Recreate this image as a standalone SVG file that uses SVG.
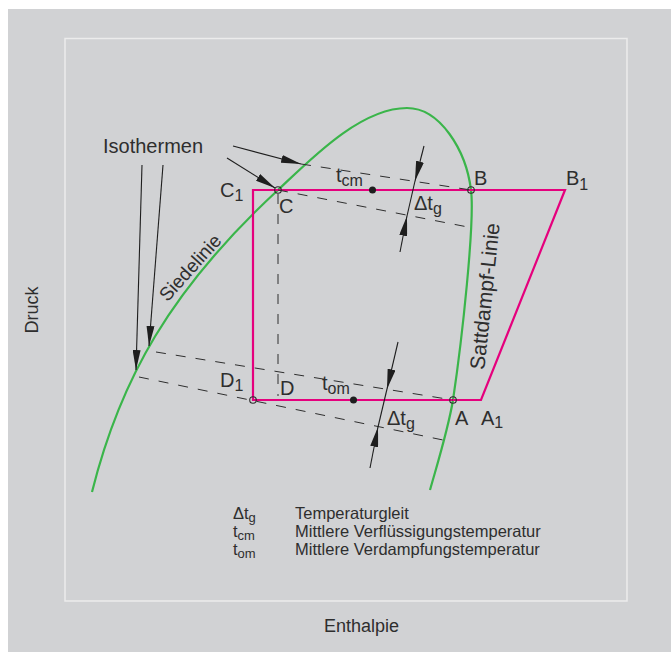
<svg xmlns="http://www.w3.org/2000/svg" width="671" height="653" viewBox="0 0 671 653">
<defs>
<style>
text{font-family:"Liberation Sans",Arial,sans-serif;fill:#2e2e2e}
.lbl{font-size:20px}
.sub{font-size:16px}
.leg{font-size:16.5px}
.dash{fill:none;stroke:#2e2e2e;stroke-width:1;stroke-dasharray:10 10}
.arr{fill:none;stroke:#1e1e1e;stroke-width:1.1;marker-end:url(#ah)}
.thin{fill:none;stroke:#1e1e1e;stroke-width:1.1}
.pink{fill:none;stroke:#e5007d;stroke-width:2.2;stroke-linejoin:miter}
.green{fill:none;stroke:#3ab54a;stroke-width:2.2}
.open{fill:none;stroke:#2e2e2e;stroke-width:1.1}
.dot{fill:#1e1e1e}
</style>
<marker id="ah" viewBox="0 0 20 8" refX="20" refY="4" markerWidth="20" markerHeight="8" markerUnits="userSpaceOnUse" orient="auto">
<path d="M0,0 L20,4 L0,8 Z" fill="#1e1e1e"/>
</marker>
</defs>
<rect id="background" x="8" y="9" width="663" height="643" fill="#d1d2d4"/>
<rect id="frame" x="65" y="38.5" width="562" height="562.5" fill="none" stroke="#ececec" stroke-width="1.5"/>
<g id="saturation-curve">
<path class="green" d="M92,492 C120,380 170,290 278,190 C310,160 360,108 407,108 C440,108 466,150 471,190 C475,222 462,340 453,400 C448,430 437,465 430,490"/>
</g>
<g id="cycle">
<path class="pink" d="M253,400 L253,190 L565,190 L481,400 Z"/>
</g>
<g id="connectors">
<line class="dash" x1="301" y1="164" x2="471" y2="190"/>
<line class="dash" x1="278" y1="190" x2="473" y2="228"/>
<line class="dash" x1="156" y1="352" x2="453" y2="400"/>
<line class="dash" x1="139" y1="377" x2="443" y2="440"/>
<line class="dash" x1="278" y1="194" x2="278" y2="396"/>
<line class="arr" x1="233" y1="146" x2="301" y2="164"/>
<line class="arr" x1="227" y1="158" x2="275" y2="188"/>
<line class="arr" x1="142" y1="165" x2="136" y2="370"/>
<line class="arr" x1="163" y1="165" x2="149" y2="346"/>
<line class="arr" x1="424" y1="146" x2="415" y2="181"/>
<line class="thin" x1="415" y1="181" x2="407" y2="216"/>
<line class="arr" x1="400" y1="252" x2="407" y2="216"/>
<line class="arr" x1="398" y1="342" x2="387" y2="389"/>
<line class="thin" x1="387" y1="389" x2="378" y2="427"/>
<line class="arr" x1="370" y1="468" x2="378" y2="427"/>
</g>
<g id="points">
<circle class="open" cx="278" cy="190" r="3.3"/>
<circle class="open" cx="471" cy="190" r="3.3"/>
<circle class="open" cx="453" cy="400" r="3.3"/>
<circle class="open" cx="253" cy="400" r="3.3"/>
<circle class="dot" cx="372.5" cy="190" r="3.5"/>
<circle class="dot" cx="353.5" cy="400" r="3.5"/>
</g>
<g id="labels">
<text class="lbl" x="103" y="153">Isothermen</text>
<text class="lbl" x="220" y="197">C<tspan class="sub" dy="4">1</tspan></text>
<text class="lbl" x="279" y="213">C</text>
<text class="lbl" x="474" y="185">B</text>
<text class="lbl" x="566" y="185">B<tspan class="sub" dy="5">1</tspan></text>
<text class="lbl" x="336" y="182">t<tspan class="sub" dy="4">cm</tspan></text>
<text class="lbl" x="414" y="210">Δt<tspan class="sub" dy="4">g</tspan></text>
<text class="lbl" x="220" y="387">D<tspan class="sub" dy="4">1</tspan></text>
<text class="lbl" x="280" y="395">D</text>
<text class="lbl" x="322" y="390">t<tspan class="sub" dy="4">om</tspan></text>
<text class="lbl" x="387" y="425">Δt<tspan class="sub" dy="4">g</tspan></text>
<text class="lbl" x="455" y="425">A</text>
<text class="lbl" x="481" y="425">A<tspan class="sub" dy="3">1</tspan></text>
<text x="0" y="0" font-size="19" text-anchor="middle" transform="translate(195,272) rotate(-48)">Siedelinie</text>
<text x="0" y="0" font-size="21" text-anchor="middle" transform="translate(492,297) rotate(-84)">Sattdampf-Linie</text>
<text x="0" y="0" font-size="18" text-anchor="middle" transform="translate(38,310) rotate(-90)">Druck</text>
<text x="361.5" y="632" font-size="18" text-anchor="middle">Enthalpie</text>
</g>
<g id="legend">
<text class="leg" x="233" y="519">Δt<tspan font-size="13" dy="3">g</tspan></text>
<text class="leg" x="233" y="537">t<tspan font-size="13" dy="3">cm</tspan></text>
<text class="leg" x="233" y="555">t<tspan font-size="13" dy="3">om</tspan></text>
<text class="leg" x="295" y="519">Temperaturgleit</text>
<text class="leg" x="295" y="537">Mittlere Verflüssigungstemperatur</text>
<text class="leg" x="295" y="555">Mittlere Verdampfungstemperatur</text>
</g>
</svg>
